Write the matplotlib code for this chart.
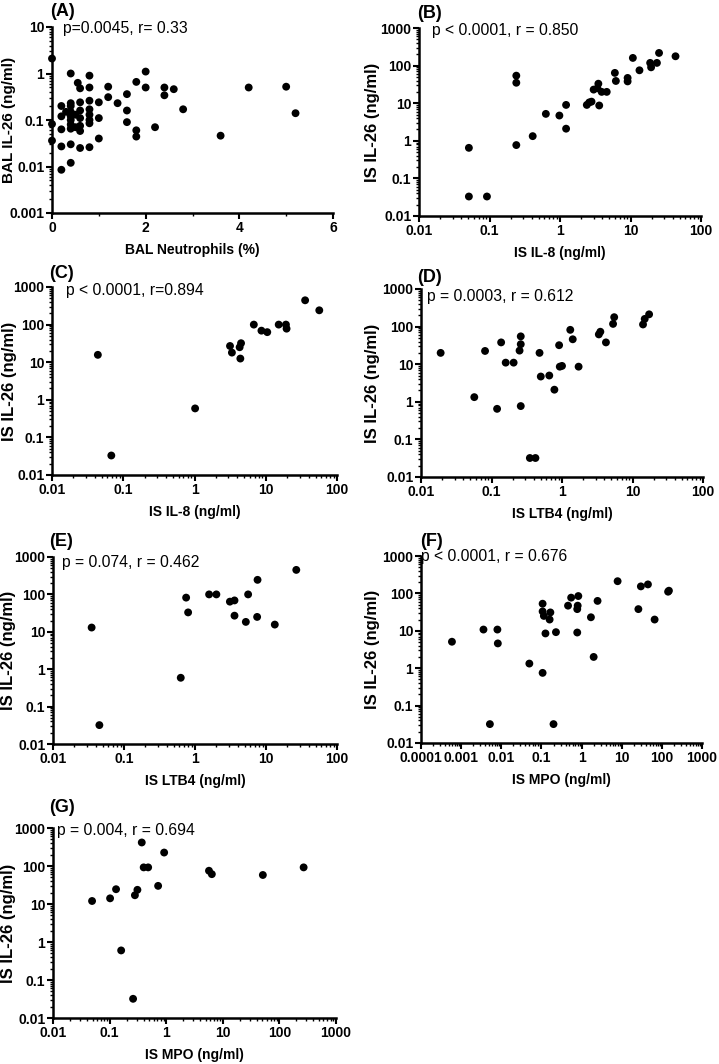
import numpy as np
import matplotlib
matplotlib.use("Agg")
from matplotlib import pyplot as plt
from matplotlib.ticker import FuncFormatter, LogLocator, MultipleLocator

plt.rcParams['font.family'] = ['Liberation Sans', 'DejaVu Sans']

# ---- data ----
# (A) BAL neutrophils (%) vs BAL IL-26 (ng/ml)
a_x = [0, 0, 0, 0.2, 0.2, 0.2, 0.2, 0.2, 0.3,
       0.4, 0.4, 0.4, 0.4, 0.4, 0.4, 0.4, 0.4, 0.4, 0.4, 0.5, 0.5,
       0.55, 0.6, 0.6, 0.6, 0.6, 0.6, 0.6, 0.6,
       0.8, 0.8, 0.8, 0.8, 0.8, 0.8, 0.8, 0.8,
       1.0, 1.0, 1.0, 1.2, 1.2, 1.4, 1.6, 1.6, 1.6, 1.8, 1.8, 1.8,
       2.0, 2.0, 2.2, 2.4, 2.4, 2.6, 2.8, 3.6, 4.2, 5.0, 5.2]
a_y = [2.1, 0.082, 0.036, 0.2, 0.12, 0.063, 0.027, 0.0085, 0.15,
       1.0, 0.23, 0.2, 0.15, 0.12, 0.1, 0.08, 0.065, 0.03, 0.012, 0.13, 0.07,
       0.63, 0.48, 0.24, 0.16, 0.11, 0.075, 0.058, 0.025,
       0.9, 0.5, 0.26, 0.17, 0.13, 0.1, 0.085, 0.026,
       0.24, 0.11, 0.04, 0.52, 0.31, 0.23, 0.36, 0.16, 0.09, 0.66, 0.06, 0.044,
       1.1, 0.5, 0.07, 0.5, 0.34, 0.46, 0.17, 0.046, 0.5, 0.52, 0.14]

# (B) IS IL-8 vs IS IL-26
b_x = [0.051, 0.051, 0.092, 0.24, 0.24, 0.24, 0.41, 0.63, 0.98, 1.22, 1.22,
       2.4, 2.6, 2.8, 3.0, 3.4, 3.5, 3.6, 3.9, 4.6, 6.0, 6.2, 9.1, 9.1,
       10.8, 13.4, 19, 19.6, 23.7, 25.4, 43.5]
b_y = [0.65, 0.033, 0.033, 54, 35, 0.77, 1.33, 5.2, 4.7, 9, 2.1,
       9, 10.5, 11, 23, 25, 33, 8.7, 20, 20, 64, 39, 47, 38,
       160, 75, 118, 90, 118, 217, 177]

# (C) IS IL-8 vs IS IL-26
c_x = [0.044, 0.068, 1.02, 3.15, 3.35, 4.3, 4.5, 4.4, 6.8, 8.7, 10.5,
       15.2, 19.2, 19.6, 35.7, 56.4]
c_y = [15.7, 0.033, 0.59, 27, 18, 25, 32, 12.5, 100, 69, 63,
       100, 100, 78, 443, 240]

# (D) IS LTB4 vs IS IL-26
d_x = [0.019, 0.057, 0.081, 0.12, 0.137, 0.159, 0.206, 0.26, 0.26, 0.25, 0.26,
       0.35, 0.42, 0.48, 0.5, 0.66, 0.78, 0.91, 0.93, 1.0, 1.31, 1.42, 1.72,
       3.33, 3.5, 4.2, 5.3, 5.5, 14.1, 14.9, 17.2]
d_y = [20, 1.33, 22.5, 0.65, 38, 11, 11, 55, 34, 23, 0.77,
       0.032, 0.032, 20, 4.7, 5, 2.1, 32, 8.6, 9, 82, 46, 8.6,
       62, 73, 38, 118, 178, 114, 160, 212]

# (E) IS LTB4 vs IS IL-26
e_x = [0.035, 0.045, 0.63, 0.75, 0.8, 1.58, 2.0, 3.1, 3.6, 3.6, 5.2, 5.6,
       7.6, 7.5, 13.3, 26.7]
e_y = [13, 0.032, 0.59, 82, 33, 100, 100, 64, 69, 27, 18.4, 100,
       245, 25, 15.6, 452]

# (F) IS MPO vs IS IL-26
f_x = [0.00059, 0.0036, 0.008, 0.0082, 0.0052, 0.05, 0.107, 0.107, 0.107, 0.115,
       0.126, 0.167, 0.16, 0.2, 0.23, 0.46, 0.55, 0.8, 0.83, 0.78, 0.78,
       1.71, 2.0, 2.5, 7.9, 26, 30, 45, 66, 143, 150]
f_y = [5.1, 10.8, 10.8, 4.6, 0.032, 1.33, 0.75, 53, 33, 25,
       8.5, 31, 20, 0.032, 9.2, 47, 77, 47, 85, 38, 9,
       23, 2.0, 63, 212, 38, 154, 174, 20, 111, 118]

# (G) IS MPO vs IS IL-26
g_x = [0.049, 0.102, 0.13, 0.16, 0.26, 0.28, 0.31, 0.37, 0.40, 0.48, 0.72,
       0.92, 5.7, 6.4, 51, 268]
g_y = [12, 14.1, 24.5, 0.6, 0.032, 17, 23.6, 416, 92, 92, 30,
       226, 75, 61, 58, 92]

panels = [
    # letter, x, y, xlabel, ylabel, stats text, xlim, ylim, xlog
    ("(A)", a_x, a_y, "BAL Neutrophils (%)", "BAL IL-26 (ng/ml)",
     "p=0.0045, r= 0.33", (0, 6), (0.001, 10), False),
    ("(B)", b_x, b_y, "IS IL-8 (ng/ml)", "IS IL-26 (ng/ml)",
     "p < 0.0001, r = 0.850", (0.01, 100), (0.01, 1000), True),
    ("(C)", c_x, c_y, "IS IL-8 (ng/ml)", "IS IL-26 (ng/ml)",
     "p < 0.0001, r=0.894", (0.01, 100), (0.01, 1000), True),
    ("(D)", d_x, d_y, "IS LTB4 (ng/ml)", "IS IL-26 (ng/ml)",
     "p = 0.0003, r = 0.612", (0.01, 100), (0.01, 1000), True),
    ("(E)", e_x, e_y, "IS LTB4 (ng/ml)", "IS IL-26 (ng/ml)",
     "p = 0.074, r = 0.462", (0.01, 100), (0.01, 1000), True),
    ("(F)", f_x, f_y, "IS MPO (ng/ml)", "IS IL-26 (ng/ml)",
     "p < 0.0001, r = 0.676", (0.0001, 1000), (0.01, 1000), True),
    ("(G)", g_x, g_y, "IS MPO (ng/ml)", "IS IL-26 (ng/ml)",
     "p = 0.004, r = 0.694", (0.01, 1000), (0.01, 1000), True),
]

# axes boxes in pixels: left, top, right, bottom
W, H = 719, 1064
boxes = [(52, 27, 333, 213), (419, 28, 701, 216),
         (52, 287, 337, 475), (421, 289, 703, 477),
         (53, 557, 337, 744), (421, 556, 702, 743),
         (53, 828, 336, 1018)]
# stats text: dx from left spine, dy from top spine ; letter: dx, dy
stat_off = [(11, 1), (13, 2), (14, 4), (6, 8), (9, 6), (0, 1), (4, 2)]
lett_off = [(-2, -15), (-2, -14), (-3, -14), (-4, -12), (-4, -16), (-1, -14), (-4, -20)]
ylab_x = [9, 373]    # pixel x of y-label centre, left / right column
ylab_size = [11, 12, 12, 12, 12, 12, 12]
xlab_dy = 37         # pixel distance of x-label centre below the axis

fig = plt.figure(figsize=(W / 100, H / 100), dpi=100)
fmt = FuncFormatter(lambda v, p: "%g" % v)

for i, (lab, x, y, xl, yl, st, xlim, ylim, xlog) in enumerate(panels):
    l, t, r, b = boxes[i]
    ax = fig.add_axes([l / W, 1 - b / H, (r - l) / W, (b - t) / H])
    ax.scatter(x, y, s=32, color='black', edgecolors='none', zorder=3, clip_on=False)
    ax.set_yscale('log')
    if xlog:
        ax.set_xscale('log')
        ax.xaxis.set_major_locator(LogLocator(base=10, numticks=20))
        ax.xaxis.set_minor_locator(LogLocator(base=10, subs=np.arange(2, 10), numticks=20))
        ax.xaxis.set_major_formatter(fmt)
    else:
        ax.xaxis.set_major_locator(MultipleLocator(2))
        ax.xaxis.set_minor_locator(MultipleLocator(1))
    ax.yaxis.set_major_locator(LogLocator(base=10, numticks=20))
    ax.yaxis.set_minor_locator(LogLocator(base=10, subs=np.arange(2, 10), numticks=20))
    ax.yaxis.set_major_formatter(fmt)
    ax.set_xlim(*xlim)
    ax.set_ylim(*ylim)
    for s in ['top', 'right']:
        ax.spines[s].set_visible(False)
    for s in ['left', 'bottom']:
        ax.spines[s].set_linewidth(1.8)
    ax.tick_params(which='major', length=4, width=1.5, labelsize=10, pad=1.5)
    ax.tick_params(which='minor', length=2.5, width=1)
    for tl in ax.get_xticklabels() + ax.get_yticklabels():
        tl.set_fontweight('bold')
    ax.set_xlabel(xl, fontsize=10, fontweight='bold')
    ax.xaxis.set_label_coords(0.5, -xlab_dy / (b - t))
    ax.xaxis.label.set_va('center')
    ax.set_ylabel(yl, fontsize=ylab_size[i], fontweight='bold')
    ax.yaxis.set_label_coords((ylab_x[i % 2] - l) / (r - l), 0.5)
    ax.yaxis.label.set_va('center')
    sx, sy = stat_off[i]
    fig.text((l + sx) / W, 1 - (t + sy) / H, st, fontsize=11.3, va='center', ha='left')
    lx, ly = lett_off[i]
    fig.text((l + lx) / W, 1 - (t + ly) / H, lab, fontsize=13, fontweight='bold',
             va='center', ha='left')

fig.savefig("out.png", dpi=100)
